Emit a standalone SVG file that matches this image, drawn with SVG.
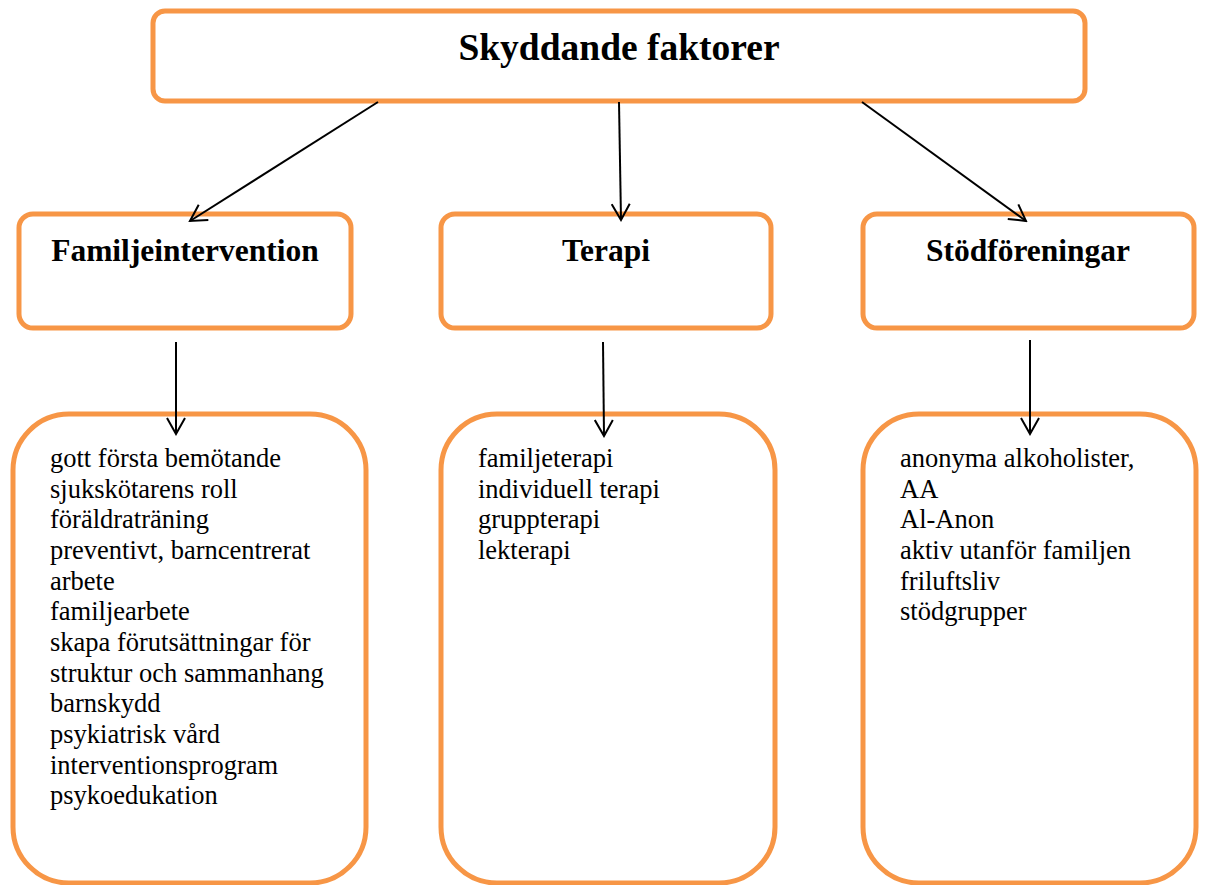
<svg xmlns="http://www.w3.org/2000/svg" width="1208" height="885" viewBox="0 0 1208 885">
<style>
.box{fill:#fff;stroke:#F79646;stroke-width:5}
.title{font-family:"Liberation Serif","Times New Roman",serif;font-weight:bold;font-size:37.5px;fill:#000}
.head{font-family:"Liberation Serif","Times New Roman",serif;font-weight:bold;font-size:31.5px;fill:#000}
.item{font-family:"Liberation Serif","Times New Roman",serif;font-size:26.5px;fill:#000}
.conn{stroke:#000;stroke-width:2;fill:none;marker-end:url(#arr)}
</style>
<defs>
<marker id="arr" viewBox="0 0 20 20" refX="18" refY="10" markerWidth="20" markerHeight="20" markerUnits="userSpaceOnUse" orient="auto">
<path d="M2,1 L18,10 L2,19" fill="none" stroke="#000" stroke-width="2"/>
</marker>
</defs>
<rect width="1208" height="885" fill="#fff"/>
<g id="n-top">
<rect class="box" x="153" y="11" width="932" height="90" rx="12"/>
<text class="title" x="619" y="60" text-anchor="middle">Skyddande faktorer</text>
</g>
<g id="n-familj">
<rect class="box" x="19" y="214" width="332" height="114" rx="14"/>
<text class="head" x="185" y="261" text-anchor="middle">Familjeintervention</text>
</g>
<g id="n-terapi">
<rect class="box" x="441" y="214" width="330" height="114" rx="14"/>
<text class="head" x="606" y="261" text-anchor="middle">Terapi</text>
</g>
<g id="n-stod">
<rect class="box" x="863" y="214" width="331" height="114" rx="14"/>
<text class="head" x="1028" y="261" text-anchor="middle">Stödföreningar</text>
</g>
<g id="n-familj-list">
<rect class="box" x="13" y="414" width="353" height="469" rx="56"/>
<text class="item" x="50" y="467">gott första bemötande</text>
<text class="item" x="50" y="498">sjukskötarens roll</text>
<text class="item" x="50" y="528">föräldraträning</text>
<text class="item" x="50" y="559">preventivt, barncentrerat</text>
<text class="item" x="50" y="590">arbete</text>
<text class="item" x="50" y="620">familjearbete</text>
<text class="item" x="50" y="651">skapa förutsättningar för</text>
<text class="item" x="50" y="682">struktur och sammanhang</text>
<text class="item" x="50" y="712">barnskydd</text>
<text class="item" x="50" y="743">psykiatrisk vård</text>
<text class="item" x="50" y="774">interventionsprogram</text>
<text class="item" x="50" y="804">psykoedukation</text>
</g>
<g id="n-terapi-list">
<rect class="box" x="441" y="414" width="334" height="469" rx="56"/>
<text class="item" x="478" y="467">familjeterapi</text>
<text class="item" x="478" y="498">individuell terapi</text>
<text class="item" x="478" y="528">gruppterapi</text>
<text class="item" x="478" y="559">lekterapi</text>
</g>
<g id="n-stod-list">
<rect class="box" x="863" y="414" width="333" height="469" rx="56"/>
<text class="item" x="900" y="467">anonyma alkoholister,</text>
<text class="item" x="900" y="498">AA</text>
<text class="item" x="900" y="528">Al-Anon</text>
<text class="item" x="900" y="559">aktiv utanför familjen</text>
<text class="item" x="900" y="590">friluftsliv</text>
<text class="item" x="900" y="620">stödgrupper</text>
</g>
<g id="connectors">
<line class="conn" x1="378" y1="102" x2="190" y2="221"/>
<line class="conn" x1="619" y1="102" x2="621" y2="220"/>
<line class="conn" x1="862" y1="102" x2="1026" y2="221"/>
<line class="conn" x1="176" y1="342" x2="176" y2="434"/>
<line class="conn" x1="603" y1="342" x2="604" y2="436"/>
<line class="conn" x1="1030" y1="340" x2="1030" y2="434"/>
</g>
</svg>
